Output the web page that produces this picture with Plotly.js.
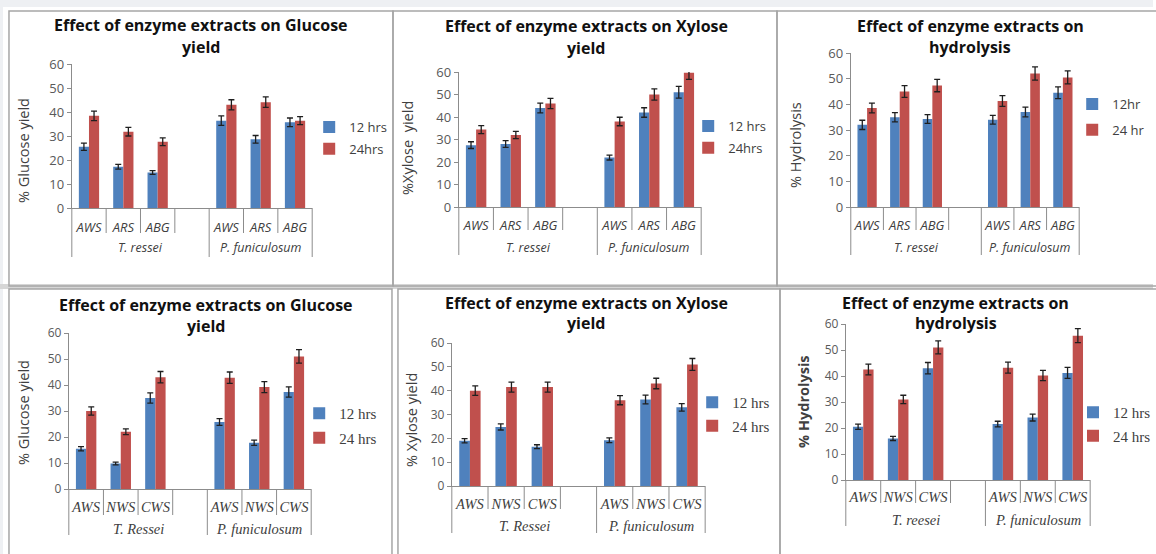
<!DOCTYPE html>
<html><head><meta charset="utf-8">
<script src="https://cdn.plot.ly/plotly-3.0.1.min.js"></script>
<style>html,body{margin:0;padding:0;background:#fff;}#chart{width:1156px;height:554px;}</style>
</head><body><div id="chart"></div>
<script>
// ---------- data ----------
const leafTop = ['AWS','ARS','ABG','','AWS','ARS','ABG'];
const leafBottom = ['AWS','NWS','CWS','','AWS','NWS','CWS'];
const groupSpans = [4, 3];
const groupsTop = ['T. ressei','P. funiculosum'];
const groupsBottom = ['T. Ressei','P. funiculosum'];
const groupsHydroBottom = ['T. reesei','P. funiculosum'];
const yTicks = [0,10,20,30,40,50,60];

const namesA = ['12 hrs','24hrs'];
const namesHydroTop = ['12hr','24 hr'];
const namesBottom = ['12 hrs','24 hrs'];

const titleGlucose = ['Effect of enzyme extracts on Glucose','yield'];
const titleXylose = ['Effect of enzyme extracts on Xylose','yield'];
const titleHydro = ['Effect of enzyme extracts on','hydrolysis'];

// Top row: Glucose
const glucoseTop12 = [25.5, 17.2, 14.8, null, 36.4, 28.6, 35.7];
const glucoseTop24 = [38.4, 31.8, 27.6, null, 43.0, 44.1, 36.4];
const glucoseTop12Err = [1.5, 1.0, 0.8, null, 2.0, 1.6, 1.8];
const glucoseTop24Err = [2.0, 1.8, 1.6, null, 2.1, 2.2, 1.7];
// Top row: Xylose
const xyloseTop12 = [27.5, 28.0, 44.0, null, 22.0, 42.0, 51.0];
const xyloseTop24 = [34.4, 32.0, 46.0, null, 38.0, 50.0, 59.7];
const xyloseTop12Err = [1.5, 1.5, 2.2, null, 1.1, 2.1, 2.6];
const xyloseTop24Err = [1.8, 1.6, 2.3, null, 1.9, 2.5, 3.0];
// Top row: Hydrolysis
const hydroTop12 = [32.0, 35.0, 34.3, null, 34.0, 37.0, 44.5];
const hydroTop24 = [38.6, 45.0, 47.3, null, 41.3, 52.0, 50.5];
const hydroTop12Err = [1.8, 1.8, 1.7, null, 1.7, 1.9, 2.3];
const hydroTop24Err = [1.9, 2.3, 2.4, null, 2.1, 2.6, 2.5];
// Bottom row: Glucose
const glucoseBot12 = [15.5, 9.8, 35.0, null, 25.8, 17.8, 37.3];
const glucoseBot24 = [30.0, 22.0, 43.0, null, 42.8, 39.2, 51.0];
const glucoseBot12Err = [0.8, 0.5, 2.0, null, 1.3, 1.0, 2.0];
const glucoseBot24Err = [1.6, 1.1, 2.2, null, 2.2, 2.1, 2.6];
// Bottom row: Xylose
const xyloseBot12 = [19.0, 24.8, 16.5, null, 19.2, 36.3, 33.0];
const xyloseBot24 = [40.0, 41.5, 41.5, null, 36.0, 43.0, 51.0];
const xyloseBot12Err = [0.9, 1.3, 0.8, null, 1.0, 1.8, 1.6];
const xyloseBot24Err = [2.0, 2.1, 2.1, null, 1.9, 2.2, 2.5];
// Bottom row: Hydrolysis
const hydroBot12 = [20.5, 16.0, 43.0, null, 21.5, 24.0, 41.2];
const hydroBot24 = [42.5, 31.0, 51.0, null, 43.2, 40.2, 55.5];
const hydroBot12Err = [1.0, 0.8, 2.2, null, 1.1, 1.3, 2.1];
const hydroBot24Err = [2.1, 1.6, 2.5, null, 2.1, 2.0, 2.7];

// ---------- layout ----------
const W = 1156, H = 554;
const px = v => v / W, py = v => 1 - v / H;
const AX = '#8c8c8c';
const SANS = 'Open Sans', SERIF = 'Liberation Serif';
const BLUE = '#4F81BD', RED = '#C0504D';

const panels = [
  {v12:glucoseTop12, v24:glucoseTop24, e12:glucoseTop12Err, e24:glucoseTop24Err, leaf:leafTop, groups:groupsTop, names:namesA, title:titleGlucose, ytitle:'% Glucose yield',
   ax:[72,313], ay:[64,208], t:[202,25,47], yt:[23,150], leg:[310,112], gap:2, leafDepth:25, groupDepth:49, groupY:248, tl:7,
   leafFont:SANS, leafSize:13, groupSize:12.5, legFont:SANS, legSize:13, tickSize:13, ytBold:false},
  {v12:xyloseTop12, v24:xyloseTop24, e12:xyloseTop12Err, e24:xyloseTop24Err, leaf:leafTop, groups:groupsTop, names:namesA, title:titleXylose, ytitle:'%Xylose  yield',
   ax:[460,703], ay:[72,207], t:[588,26,48], yt:[408,148], leg:[690,111], gap:2, leafDepth:23, groupDepth:48, groupY:247, tl:6,
   leafFont:SANS, leafSize:13, groupSize:12.5, legFont:SANS, legSize:13, tickSize:13, ytBold:false},
  {v12:hydroTop12, v24:hydroTop24, e12:hydroTop12Err, e24:hydroTop24Err, leaf:leafTop, groups:groupsTop, names:namesHydroTop, title:titleHydro, ytitle:'% Hydrolysis',
   ax:[853,1082], ay:[53,207], t:[973,26,47], yt:[798,145], leg:[1075,89], gap:6, leafDepth:23, groupDepth:48, groupY:247, tl:6,
   leafFont:SANS, leafSize:13, groupSize:12.5, legFont:SANS, legSize:13, tickSize:13, ytBold:false},
  {v12:glucoseBot12, v24:glucoseBot24, e12:glucoseBot12Err, e24:glucoseBot24Err, leaf:leafBottom, groups:groupsBottom, names:namesBottom, title:titleGlucose, ytitle:'% Glucose yield',
   ax:[69,312], ay:[333,489], t:[207,305,326], yt:[23,412], leg:[300,397], gap:2, leafDepth:26, groupDepth:46, groupY:529, tl:5,
   leafFont:SERIF, leafSize:14.5, groupSize:14.5, legFont:SERIF, legSize:15, tickSize:12, ytBold:false},
  {v12:xyloseBot12, v24:xyloseBot24, e12:xyloseBot12Err, e24:xyloseBot24Err, leaf:leafBottom, groups:groupsBottom, names:namesBottom, title:titleXylose, ytitle:'% Xylose yield',
   ax:[453,707], ay:[343,486], t:[588,303,323], yt:[412,420], leg:[694,386], gap:1, leafDepth:23, groupDepth:47, groupY:526, tl:5,
   leafFont:SERIF, leafSize:14.5, groupSize:14.5, legFont:SERIF, legSize:15, tickSize:12, ytBold:false},
  {v12:hydroBot12, v24:hydroBot24, e12:hydroBot12Err, e24:hydroBot24Err, leaf:leafBottom, groups:groupsHydroBottom, names:namesBottom, title:titleHydro, ytitle:'% Hydrolysis',
   ax:[848,1093], ay:[324,480], t:[958,303,323], yt:[805,402], leg:[1076,396], gap:1, leafDepth:23, groupDepth:46, groupY:520, tl:4,
   leafFont:SERIF, leafSize:14.5, groupSize:14.5, legFont:SERIF, legSize:15, tickSize:12, ytBold:true}
];

const data = [];
const layout = {
  width: W, height: H, margin: {l:0, r:0, t:0, b:0},
  paper_bgcolor: '#ffffff', plot_bgcolor: 'rgba(0,0,0,0)',
  barmode: 'group', bargap: 0.41, bargroupgap: 0,
  showlegend: true, annotations: [], shapes: [],
  font: {family: SANS, color: '#404040'}
};

// background / panel frames
layout.shapes.push({type:'rect', xref:'paper', yref:'paper', x0:0, x1:1, y0:py(0), y1:py(7), fillcolor:'#eef0f3', line:{width:0}, layer:'below'});
layout.shapes.push({type:'rect', xref:'paper', yref:'paper', x0:0, x1:px(3), y0:py(7), y1:0, fillcolor:'#eef0f3', line:{width:0}, layer:'below'});
layout.shapes.push({type:'rect', xref:'paper', yref:'paper', x0:0, x1:1, y0:py(284), y1:py(289), fillcolor:'#d6d6d6', line:{width:0}, layer:'below'});
const frames = [[9,11,394,286],[394,11,779,286],[779,11,1170,286],[9,289,393,570],[399,289,782,570],[782,289,1170,570]];
frames.forEach(f => layout.shapes.push({type:'rect', xref:'paper', yref:'paper', x0:px(f[0]), x1:px(f[2]), y0:py(f[1]), y1:py(f[3]), line:{color:'#a6a6a6', width:1.5}, fillcolor:'rgba(0,0,0,0)', layer:'below'}));

panels.forEach((p, i) => {
  const s = i === 0 ? '' : String(i + 1);
  const xs = p.leaf.map((_, k) => k);
  const errStyle = {type:'data', visible:true, color:'#1f1f1f', thickness:1.3, width:3};
  data.push({type:'bar', x:xs, y:p.v12, name:p.names[0], marker:{color:BLUE},
    error_y:Object.assign({array:p.e12}, errStyle), xaxis:'x'+s, yaxis:'y'+s,
    legend:'legend'+s, legendgroup:'g'+i+'a', hoverinfo:'y'});
  data.push({type:'bar', x:xs, y:p.v24, name:p.names[1], marker:{color:RED},
    error_y:Object.assign({array:p.e24}, errStyle), xaxis:'x'+s, yaxis:'y'+s,
    legend:'legend'+s, legendgroup:'g'+i+'b', hoverinfo:'y'});

  layout['xaxis'+s] = {domain:[px(p.ax[0]), px(p.ax[1])], anchor:'y'+s, range:[-0.5, p.leaf.length-0.5],
    tickmode:'array', tickvals:xs, ticktext:p.leaf, ticks:'outside', ticklen:p.tl, tickcolor:'rgba(0,0,0,0)',
    showline:true, linecolor:AX, linewidth:1, showgrid:false, zeroline:false, fixedrange:true,
    tickfont:{family:p.leafFont, size:p.leafSize, color:'#404040', style:'italic'}};
  layout['yaxis'+s] = {domain:[py(p.ay[1]), py(p.ay[0])], anchor:'x'+s, range:[0,60],
    tickmode:'array', tickvals:yTicks, ticks:'outside', ticklen:4, tickcolor:AX,
    showline:true, linecolor:AX, linewidth:1, showgrid:false, zeroline:false, fixedrange:true,
    tickfont:{family:SANS, size:p.tickSize, color:'#595959'}};
  layout['legend'+s] = {x:px(p.leg[0]), y:py(p.leg[1]), xanchor:'left', yanchor:'top',
    bgcolor:'rgba(0,0,0,0)', borderwidth:0, tracegroupgap:p.gap, traceorder:'grouped',
    font:{family:p.legFont, size:p.legSize, color:'#404040'}};

  // titles
  layout.annotations.push({xref:'paper', yref:'paper', x:px(p.t[0]), y:py(p.t[1]), text:p.title[0], showarrow:false,
    xanchor:'center', yanchor:'middle', font:{family:SANS, size:16, color:'#111', weight:'bold'}});
  layout.annotations.push({xref:'paper', yref:'paper', x:px(p.t[0]), y:py(p.t[2]), text:p.title[1], showarrow:false,
    xanchor:'center', yanchor:'middle', font:{family:SANS, size:16, color:'#111', weight:'bold'}});
  // y title
  layout.annotations.push({xref:'paper', yref:'paper', x:px(p.yt[0]), y:py(p.yt[1]), text:p.ytitle, showarrow:false,
    textangle:-90, xanchor:'center', yanchor:'middle',
    font:{family:SANS, size:14.5, color:'#404040', weight:p.ytBold ? 'bold' : 'normal'}});
  // group labels
  let start = 0;
  p.groups.forEach((g, gi) => {
    const center = start + (groupSpans[gi] - 1) / 2;
    layout.annotations.push({xref:'x'+s, yref:'paper', x:center, y:py(p.groupY), text:g, showarrow:false,
      xanchor:'center', yanchor:'middle', font:{family:p.leafFont, size:p.groupSize, color:'#404040', style:'italic'}});
    start += groupSpans[gi];
  });
  // category dividers
  const n = p.leaf.length;
  const groupBounds = [0];
  groupSpans.reduce((a, b) => { groupBounds.push(a + b); return a + b; }, 0);
  for (let k = 0; k <= n; k++) {
    const depth = groupBounds.includes(k) ? p.groupDepth : p.leafDepth;
    layout.shapes.push({type:'line', xref:'x'+s+' domain', yref:'paper', x0:k/n, x1:k/n,
      y0:py(p.ay[1]), y1:py(p.ay[1] + depth), line:{color:AX, width:1}});
  }
});

Plotly.newPlot('chart', data, layout, {displayModeBar:false, staticPlot:true});
</script></body></html>
